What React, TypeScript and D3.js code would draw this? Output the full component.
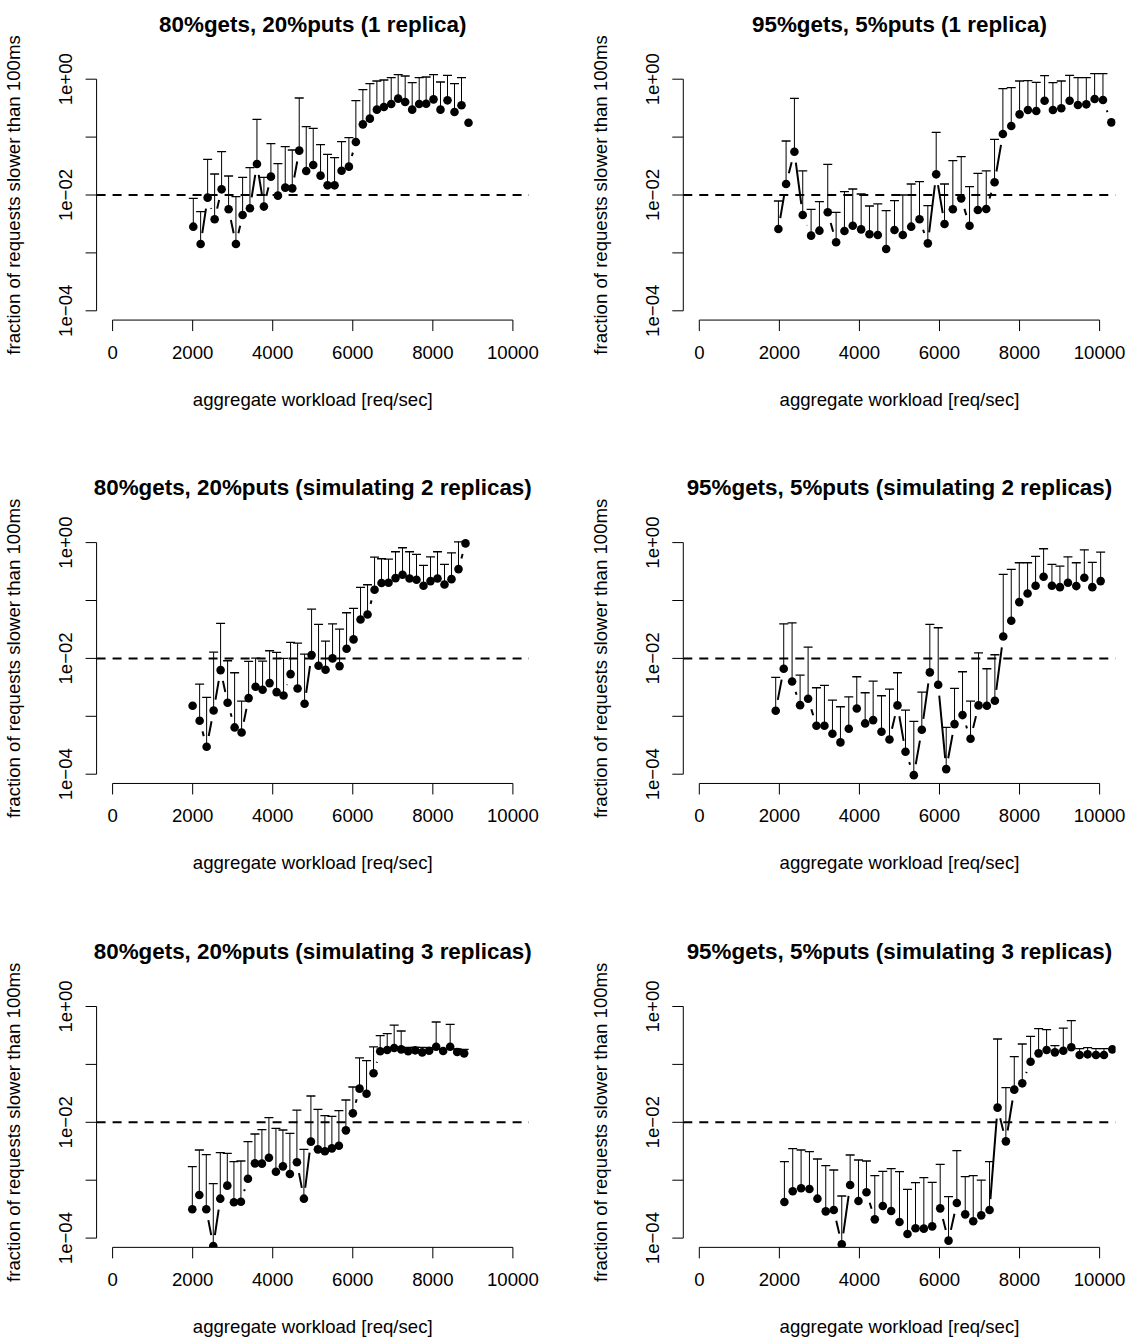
import React from 'react';
import * as d3 from 'd3';

// ---------- shared axis data ----------
const xTickValues = [0, 2000, 4000, 6000, 8000, 10000];
const yTickValues = [1, 1e-1, 1e-2, 1e-3, 1e-4];
const yTickLabels = ['1e+00', '', '1e\u221202', '', '1e\u221204'];
const xAxisTitle = 'aggregate workload [req/sec]';
const yAxisTitle = 'fraction of requests slower than 100ms';
const thresholdValue = 0.01;

const panelTitles = [
  '80%gets, 20%puts (1 replica)',
  '95%gets, 5%puts (1 replica)',
  '80%gets, 20%puts (simulating 2 replicas)',
  '95%gets, 5%puts (simulating 2 replicas)',
  '80%gets, 20%puts (simulating 3 replicas)',
  '95%gets, 5%puts (simulating 3 replicas)',
];

// values are read as log10(fraction); null = no error bar
const p1X = [2016,2199,2374,2549,2723,2898,3081,3248,3431,3606,3780,3955,4130,4313,4488,4662,4837,5012,5195,5370,5545,5720,5903,6077,6252,6427,6602,6777,6960,7134,7309,7484,7659,7833,8017,8191,8366,8541,8716,8891];
const p1LogY = [-2.547,-2.847,-2.046,-2.42,-1.902,-2.247,-2.847,-2.345,-2.23,-1.464,-2.2,-1.683,-2.011,-1.873,-1.885,-1.234,-1.585,-1.482,-1.666,-1.833,-1.833,-1.58,-1.51,-1.085,-0.78,-0.681,-0.526,-0.48,-0.428,-0.336,-0.394,-0.526,-0.428,-0.423,-0.348,-0.526,-0.365,-0.567,-0.451,-0.751];
const p1LogUp = [-2.058,-2.288,-1.384,-1.637,-1.252,-1.672,-2.029,-1.695,-1.528,-0.693,-1.695,-1.113,-1.459,-1.165,-1.223,-0.325,-0.82,-0.849,-1.13,-1.298,-1.355,-1.079,-1.01,-0.371,-0.181,-0.077,-0.031,-0.014,0.026,0.078,0.055,-0.06,0.026,0.038,0.078,-0.048,0.067,-0.077,0.026,null];

const p2X = [1976,2168,2376,2584,2793,3001,3209,3418,3626,3834,4043,4251,4459,4668,4876,5084,5293,5501,5709,5918,6126,6334,6543,6751,6959,7168,7376,7584,7793,8001,8209,8418,8626,8834,9043,9251,9459,9668,9876,10084,10293];
const p2LogY = [-2.587,-1.81,-1.252,-2.345,-2.702,-2.616,-2.299,-2.817,-2.622,-2.53,-2.593,-2.679,-2.691,-2.933,-2.604,-2.691,-2.547,-2.42,-2.835,-1.643,-2.501,-2.247,-2.058,-2.53,-2.259,-2.241,-1.781,-0.946,-0.808,-0.607,-0.532,-0.549,-0.371,-0.532,-0.503,-0.371,-0.446,-0.434,-0.342,-0.359,-0.745];
const p2LogUp = [-2.104,-1.067,-0.33,-1.585,-2.247,-2.115,-1.47,-2.299,-1.942,-1.896,-1.983,-2.19,-2.155,-2.27,-2.098,-2.0,-1.81,-1.77,-2.184,-0.918,-1.81,-1.407,-1.338,-1.856,-1.626,-1.585,-1.038,-0.164,-0.146,-0.031,-0.025,-0.054,0.061,-0.06,-0.031,0.067,0.026,0.026,0.096,0.096,null];

const p3X = [1999,2174,2349,2524,2698,2873,3048,3223,3398,3572,3747,3922,4097,4271,4446,4621,4796,4971,5145,5320,5495,5670,5845,6019,6194,6369,6544,6718,6893,7068,7243,7418,7592,7767,7942,8117,8291,8466,8641,8816];
const p3LogY = [-2.818,-3.077,-3.526,-2.899,-2.202,-2.766,-3.192,-3.279,-2.686,-2.49,-2.542,-2.427,-2.582,-2.64,-2.271,-2.519,-2.784,-1.943,-2.127,-2.196,-2.0,-2.133,-1.834,-1.672,-1.327,-1.241,-0.815,-0.699,-0.694,-0.613,-0.556,-0.619,-0.642,-0.746,-0.665,-0.619,-0.723,-0.631,-0.458,-0.014];
const p3LogUp = [null,-2.444,-2.674,-1.891,-1.396,-2.041,-2.248,-2.738,-2.052,-1.995,-2.047,-1.868,-1.897,-2.0,-1.724,-1.736,-1.926,-1.149,-1.413,-1.701,-1.402,-1.494,-1.212,-1.137,-0.774,-0.728,-0.25,-0.279,-0.285,-0.158,-0.089,-0.158,-0.204,-0.394,-0.245,-0.158,-0.377,-0.176,0.014,null];

const p4X = [1909,2109,2318,2518,2718,2926,3126,3326,3526,3734,3934,4143,4343,4551,4751,4951,5151,5359,5559,5759,5968,6168,6376,6576,6776,6976,7184,7384,7593,7793,7993,8201,8401,8601,8809,9009,9209,9418,9618,9818,10026];
const p4LogY = [-2.904,-2.179,-2.398,-2.807,-2.697,-3.163,-3.163,-3.302,-3.451,-3.216,-2.864,-3.123,-3.066,-3.267,-3.4,-2.812,-3.613,-4.016,-3.233,-2.242,-2.455,-3.912,-3.135,-2.979,-3.388,-2.812,-2.818,-2.732,-1.621,-1.35,-1.028,-0.878,-0.746,-0.59,-0.746,-0.769,-0.694,-0.751,-0.607,-0.769,-0.665];
const p4LogUp = [-2.329,-1.402,-1.385,-2.288,-1.805,-2.507,-2.467,-2.72,-2.835,-2.663,-2.317,-2.593,-2.392,-2.645,-2.53,-2.248,-2.893,-3.089,-2.582,-1.413,-1.471,-3.192,-2.519,-2.231,-2.738,-1.903,-2.179,-1.937,-0.55,-0.463,-0.348,-0.348,-0.239,-0.106,-0.377,-0.406,-0.245,-0.348,-0.124,-0.342,-0.164];

const p5X = [1991,2166,2340,2515,2690,2865,3031,3206,3381,3556,3730,3905,4080,4255,4429,4604,4779,4954,5129,5303,5478,5653,5828,6002,6169,6344,6519,6685,6860,7034,7209,7384,7559,7734,7908,8083,8258,8433,8608,8782];
const p5LogY = [-3.503,-3.256,-3.503,-4.136,-3.319,-3.094,-3.382,-3.371,-2.974,-2.709,-2.714,-2.611,-2.853,-2.761,-2.893,-2.691,-3.319,-2.334,-2.467,-2.501,-2.45,-2.404,-2.139,-1.845,-1.419,-1.506,-1.154,-0.774,-0.751,-0.717,-0.74,-0.774,-0.757,-0.792,-0.763,-0.694,-0.769,-0.694,-0.786,-0.809];
const p5LogUp = [-2.766,-2.478,-2.559,-3.06,-2.524,-2.536,-2.68,-2.668,-2.334,-2.202,-2.127,-1.92,-2.104,-2.133,-2.19,-1.788,-2.467,-1.546,-1.776,-1.886,-1.897,-1.799,-1.615,-1.39,-0.889,-0.936,-0.699,-0.504,-0.469,-0.32,-0.423,-0.705,-0.705,-0.705,-0.711,-0.268,-0.74,-0.308,-0.734,-0.74];

const p6X = [2126,2334,2543,2751,2951,3159,3359,3559,3768,3976,4176,4384,4584,4793,5001,5201,5401,5609,5818,6018,6226,6434,6643,6843,7043,7251,7451,7659,7868,8068,8276,8476,8676,8884,9093,9293,9501,9701,9909,10109,10318];
const p6LogY = [-3.377,-3.192,-3.14,-3.152,-3.319,-3.538,-3.515,-4.108,-3.083,-3.359,-3.209,-3.676,-3.446,-3.532,-3.722,-3.929,-3.831,-3.837,-3.797,-3.486,-4.044,-3.394,-3.59,-3.71,-3.607,-3.515,-1.747,-2.329,-1.436,-1.327,-0.953,-0.809,-0.751,-0.792,-0.763,-0.705,-0.838,-0.826,-0.838,-0.838,-0.74];
const p6LogUp = [-2.68,-2.456,-2.478,-2.507,-2.634,-2.749,-2.824,-3.273,-2.565,-2.651,-2.668,-2.922,-2.847,-2.801,-2.853,-3.158,-3.043,-2.956,-3.037,-2.726,-3.284,-2.49,-2.939,-2.922,-2.997,-2.68,-0.561,-1.402,-0.866,-0.648,-0.515,-0.383,-0.4,-0.677,-0.372,-0.245,-0.728,-0.711,-0.728,-0.728,null];

const panelXs = [p1X, p2X, p3X, p4X, p5X, p6X];
const panelLogYs = [p1LogY, p2LogY, p3LogY, p4LogY, p5LogY, p6LogY];
const panelLogUps = [p1LogUp, p2LogUp, p3LogUp, p4LogUp, p5LogUp, p6LogUp];

// ---------- layout ----------
const W = 1128;
const H = 1339;
const FONT = '"Liberation Sans", Arial, Helvetica, sans-serif';
const colZero = [112.6, 699.3]; // pixel of x = 0
const xSpan = 400.3; // pixels from 0 to 10000
const rowTopDecade = [79.2, 542.6, 1006.5]; // pixel of y = 1e0
const decade = 57.9;
const TICK = 11;
const GAP = 11; // R type="b" gap around points
const R_PT = 4.3;
const CAP = 4.5;

function Panel({ idx }: { idx: number }) {
  const row = Math.floor(idx / 2);
  const col = idx % 2;
  const xs = panelXs[idx];
  const ys = panelLogYs[idx].map((v) => Math.pow(10, v));
  const ups = panelLogUps[idx].map((v) => (v === null ? null : Math.pow(10, v)));

  const x = d3.scaleLinear().domain([0, 10000]).range([colZero[col], colZero[col] + xSpan]);
  const y = d3.scaleLog().domain([1e-4, 1]).range([rowTopDecade[row] + 4 * decade, rowTopDecade[row]]);

  const padX = 0.04 * xSpan;
  const padY = 0.16 * decade;
  const left = x(0) - padX;
  const right = x(10000) + padX;
  const top = y(1) - padY;
  const bottom = y(1e-4) + padY;
  const clipId = `clip${idx}`;

  const pts = xs.map((xv, i) => [x(xv), y(ys[i])] as [number, number]);
  const segs: string[] = [];
  for (let i = 0; i < pts.length - 1; i++) {
    const [x0, y0] = pts[i];
    const [x1, y1] = pts[i + 1];
    const dx = x1 - x0;
    const dy = y1 - y0;
    const L = Math.hypot(dx, dy);
    if (L > 2 * GAP) {
      const ux = dx / L;
      const uy = dy / L;
      segs.push(`M${x0 + ux * GAP},${y0 + uy * GAP}L${x1 - ux * GAP},${y1 - uy * GAP}`);
    }
  }

  const cx = (left + right) / 2;
  const cy = (top + bottom) / 2;

  return (
    <g>
      <defs>
        <clipPath id={clipId}>
          <rect x={left} y={top} width={right - left} height={bottom - top} />
        </clipPath>
      </defs>
      {/* title */}
      <text x={cx} y={top - 38.2} textAnchor="middle" fontFamily={FONT} fontWeight="bold" fontSize={22.4} fill="#000">
        {panelTitles[idx]}
      </text>
      {/* x axis */}
      <line x1={x(0)} x2={x(10000)} y1={bottom} y2={bottom} stroke="#000" strokeWidth={1} />
      {xTickValues.map((t) => (
        <g key={t}>
          <line x1={x(t)} x2={x(t)} y1={bottom} y2={bottom + TICK} stroke="#000" strokeWidth={1} />
          <text x={x(t)} y={bottom + 38.7} textAnchor="middle" fontFamily={FONT} fontSize={18.6} fill="#000">
            {String(t)}
          </text>
        </g>
      ))}
      <text x={cx} y={bottom + 86} textAnchor="middle" fontFamily={FONT} fontSize={18.6} fill="#000">
        {xAxisTitle}
      </text>
      {/* y axis */}
      <line x1={left} x2={left} y1={y(1)} y2={y(1e-4)} stroke="#000" strokeWidth={1} />
      {yTickValues.map((t, i) => (
        <g key={i}>
          <line x1={left - TICK} x2={left} y1={y(t)} y2={y(t)} stroke="#000" strokeWidth={1} />
          {yTickLabels[i] && (
            <text
              transform={`translate(${left - 24.5},${y(t)}) rotate(-90)`}
              textAnchor="middle"
              fontFamily={FONT}
              fontSize={18.6}
              fill="#000"
            >
              {yTickLabels[i]}
            </text>
          )}
        </g>
      ))}
      <text
        transform={`translate(${left - 76.3},${cy}) rotate(-90)`}
        textAnchor="middle"
        fontFamily={FONT}
        fontSize={18.6}
        fill="#000"
      >
        {yAxisTitle}
      </text>
      {/* data */}
      <g clipPath={`url(#${clipId})`}>
        <path d={segs.join('')} stroke="#000" strokeWidth={2} fill="none" />
        {pts.map(([px, py], i) => {
          const u = ups[i];
          if (u === null) return null;
          const uy = y(u);
          return (
            <g key={'e' + i}>
              <line x1={px} x2={px} y1={py} y2={uy} stroke="#000" strokeWidth={1} />
              <line x1={px - CAP} x2={px + CAP} y1={uy} y2={uy} stroke="#000" strokeWidth={1.3} />
            </g>
          );
        })}
        {pts.map(([px, py], i) => (
          <circle key={'p' + i} cx={px} cy={py} r={R_PT} fill="#000" />
        ))}
        <line
          x1={left}
          x2={right}
          y1={y(thresholdValue)}
          y2={y(thresholdValue)}
          stroke="#000"
          strokeWidth={2}
          strokeDasharray="9,7"
        />
      </g>
    </g>
  );
}

export default function App() {
  return (
    <svg
      width={W}
      height={H}
      viewBox={`0 0 ${W} ${H}`}
      style={{ position: 'absolute', left: 0, top: 0, background: '#fff' }}
    >
      <rect x={0} y={0} width={W} height={H} fill="#fff" />
      {panelTitles.map((_, i) => (
        <Panel key={i} idx={i} />
      ))}
    </svg>
  );
}
